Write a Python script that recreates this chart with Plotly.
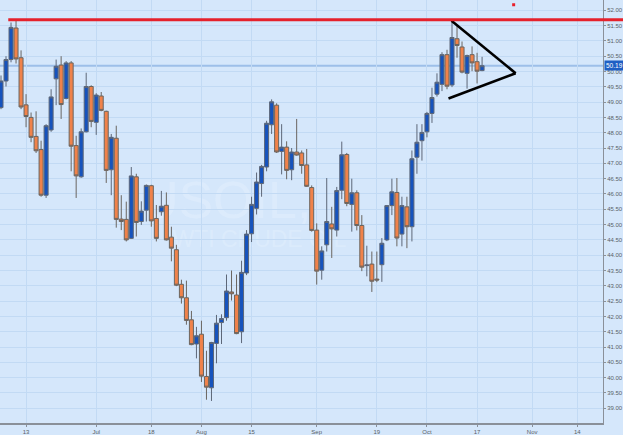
import plotly.graph_objects as go
import pandas as pd

# ---- data ----
dates = pd.bdate_range("2016-06-06", "2016-10-18")
opens = [48.82, 49.69, 50.39, 51.42, 50.45, 48.91, 48.50, 47.88, 47.45, 45.96,
         48.09, 49.76, 50.21, 49.12, 50.28, 47.58, 46.56, 48.03, 49.51, 48.34,
         49.20, 48.70, 46.79, 47.82, 45.18, 45.17, 44.55, 46.56, 45.10, 45.47,
         46.27, 45.20, 45.42, 45.63, 44.59, 44.18, 43.05, 42.61, 41.89, 41.10,
         41.42, 40.04, 39.67, 41.12, 41.80, 41.96, 42.80, 42.70, 41.50, 43.42,
         44.70, 45.53, 46.34, 46.88, 48.26, 48.90, 47.39, 47.53, 46.79, 47.37,
         47.34, 46.95, 46.21, 44.82, 43.51, 44.34, 45.02, 44.82, 46.12, 47.29,
         45.66, 46.04, 44.97, 43.66, 43.71, 43.22, 43.69, 44.50, 45.62, 46.05,
         44.69, 45.58, 44.93, 47.20, 47.74, 48.03, 48.63, 49.26, 49.58, 50.55,
         49.56, 51.07, 50.80, 49.94, 50.55, 50.32, 50.03]
highs = [49.87, 50.50, 51.60, 51.67, 50.69, 49.26, 48.66, 48.70, 47.74, 48.28,
         49.42, 50.39, 50.50, 50.34, 50.34, 47.90, 48.14, 49.96, 49.55, 49.29,
         49.33, 48.72, 47.96, 48.23, 45.96, 45.75, 46.88, 46.66, 45.76, 46.31,
         46.30, 45.64, 46.10, 46.05, 44.93, 44.34, 43.20, 43.17, 42.18, 41.66,
         41.86, 40.88, 41.17, 42.05, 42.07, 43.37, 43.50, 43.37, 43.82, 44.82,
         45.91, 46.70, 46.95, 48.39, 49.09, 48.96, 48.28, 47.72, 47.50, 48.45,
         47.42, 47.47, 46.28, 45.04, 44.29, 46.52, 45.58, 46.23, 47.71, 47.34,
         46.50, 46.12, 45.31, 44.31, 44.12, 44.12, 44.56, 45.64, 46.50, 46.52,
         45.91, 45.91, 47.42, 48.28, 48.28, 48.68, 49.47, 49.94, 50.63, 50.71,
         51.63, 51.52, 50.98, 50.55, 50.82, 50.61, 50.48]
lows = [48.77, 49.51, 50.30, 50.26, 48.77, 48.18, 47.69, 47.34, 45.91, 45.87,
        48.03, 48.90, 48.45, 49.09, 46.74, 45.87, 46.53, 48.01, 48.18, 47.93,
        48.70, 46.36, 45.96, 44.90, 44.82, 44.45, 44.53, 44.61, 44.99, 45.10,
        44.93, 44.45, 45.29, 44.48, 43.80, 42.99, 42.42, 41.73, 41.06, 40.63,
        39.86, 39.28, 39.24, 40.47, 41.10, 41.86, 42.52, 41.42, 41.13, 43.35,
        44.43, 45.33, 45.91, 46.74, 47.96, 47.34, 46.64, 46.48, 46.45, 47.25,
        46.66, 46.23, 44.77, 43.04, 43.20, 44.12, 43.91, 44.61, 45.83, 45.60,
        44.77, 44.81, 43.48, 43.31, 42.80, 43.12, 43.13, 44.46, 45.31, 44.29,
        44.29, 44.23, 44.45, 46.66, 47.09, 47.85, 48.32, 49.18, 49.36, 49.42,
        49.49, 50.45, 49.94, 49.44, 50.01, 49.61, 50.01]
closes = [49.69, 50.39, 51.44, 50.41, 48.84, 48.53, 47.85, 47.41, 45.96, 48.23,
          49.17, 50.17, 48.92, 50.28, 47.56, 46.59, 48.03, 49.51, 48.37, 49.23,
          48.73, 46.77, 47.85, 45.17, 45.10, 44.50, 46.59, 45.07, 45.44, 46.28,
          45.12, 44.55, 45.60, 44.50, 44.23, 43.02, 42.61, 41.87, 41.08, 41.37,
          40.05, 39.69, 41.15, 41.78, 41.93, 42.83, 42.74, 41.44, 43.44, 44.69,
          45.66, 46.39, 46.90, 48.31, 49.01, 47.37, 47.53, 46.77, 47.37, 47.27,
          46.93, 46.25, 44.81, 43.48, 44.14, 45.10, 44.86, 46.11, 47.28, 45.69,
          46.04, 44.97, 43.61, 43.68, 43.15, 43.19, 44.39, 45.62, 46.07, 44.56,
          45.62, 44.93, 47.15, 47.69, 48.01, 48.63, 49.15, 49.65, 50.55, 49.52,
          51.11, 50.85, 49.98, 50.52, 50.28, 50.01, 50.19]

tick_dates = ["2016-06-13", "2016-07-01", "2016-07-18", "2016-08-01", "2016-08-15",
              "2016-09-01", "2016-09-19", "2016-10-03", "2016-10-17", "2016-11-01",
              "2016-11-14"]
tick_labels = ["13", "Jul", "18", "Aug", "15", "Sep", "19", "Oct", "17", "Nov", "14"]

resistance = 51.69
last_price = 50.19
# triangle (pennant) lines: x in bar index, y in price
tri_upper_x = [89.9, 102.7]
tri_upper_y = [51.66, 49.94]
tri_lower_x = [89.3, 102.7]
tri_lower_y = [49.12, 49.94]
dot_x = [102.3]
dot_y = [52.18]
y_ticks = [39 + 0.5 * k for k in range(27)]

# ---- derived positions ----
axis_dates = pd.bdate_range("2016-06-06", "2016-11-30")
idx_of = {d.strftime("%Y-%m-%d"): i for i, d in enumerate(axis_dates)}
tick_vals = [idx_of[d] for d in tick_dates]
x = list(range(len(dates)))

x_range = [-0.2, 120.13]
y_range = [38.52, 52.335]

BG = "#d5e7fb"
GRID = "#c2daf4"
AX = "#8a9099"
WM = "rgba(226,239,253,0.55)"

fig = go.Figure()

fig.add_trace(go.Candlestick(
    x=x, open=opens, high=highs, low=lows, close=closes,
    increasing=dict(fillcolor="#1653bd", line=dict(color="#5d6778", width=1)),
    decreasing=dict(fillcolor="#f0824a", line=dict(color="#6a6560", width=1)),
    whiskerwidth=0, showlegend=False, hoverinfo="skip"))

fig.add_trace(go.Scatter(x=tri_upper_x, y=tri_upper_y, mode="lines",
                         line=dict(color="black", width=2.6), showlegend=False, hoverinfo="skip"))
fig.add_trace(go.Scatter(x=tri_lower_x, y=tri_lower_y, mode="lines",
                         line=dict(color="black", width=2.6), showlegend=False, hoverinfo="skip"))
fig.add_trace(go.Scatter(x=dot_x, y=dot_y, mode="markers",
                         marker=dict(color="#e8202a", size=3, symbol="square"),
                         showlegend=False, hoverinfo="skip"))

def to_paper(v):
    return (v - x_range[0]) / (x_range[1] - x_range[0])

shapes = [
    dict(type="line", xref="paper", yref="y", x0=0, x1=1, y0=last_price, y1=last_price,
         line=dict(color="#9dbfe9", width=2), layer="between"),
    dict(type="line", xref="paper", yref="y", x0=to_paper(1.45), x1=1.04,
         y0=resistance, y1=resistance, line=dict(color="#e5212b", width=3), layer="above"),
    dict(type="rect", xref="paper", yref="paper", x0=0.2, x1=0.55, y0=0.48, y1=0.60,
         line=dict(width=0), fillcolor="rgba(0,0,0,0)", layer="between",
         label=dict(text="USOIL,", font=dict(size=52, color=WM, family="Liberation Sans"),
                    textposition="middle center")),
    dict(type="rect", xref="paper", yref="paper", x0=0.2, x1=0.66, y0=0.40, y1=0.48,
         line=dict(width=0), fillcolor="rgba(0,0,0,0)", layer="between",
         label=dict(text="WTI CRUDE OIL", font=dict(size=23, color=WM, family="Liberation Sans"),
                    textposition="middle center")),
]

fig.update_layout(
    width=623, height=435,
    margin=dict(l=0, r=18, t=0, b=9),
    paper_bgcolor=BG, plot_bgcolor=BG,
    font=dict(family="Liberation Sans, Arial, sans-serif", color="#5a5f66", size=6),
    boxgap=0.2, boxgroupgap=0.0,
    shapes=shapes,
    annotations=[dict(xref="paper", yref="y", x=1.0, y=last_price, xanchor="left",
                      yanchor="middle", text="50.19", showarrow=False,
                      font=dict(size=6.5, color="white"), bgcolor="#1f5fc4",
                      borderpad=1, xshift=1)],
    xaxis=dict(range=x_range, tickmode="array", tickvals=tick_vals, ticktext=tick_labels,
               showgrid=True, gridcolor=GRID, gridwidth=1, zeroline=False,
               showline=True, linecolor=AX, linewidth=1.5, ticks="outside", ticklen=2,
               tickcolor=AX, rangeslider=dict(visible=False), tickfont=dict(size=6)),
    yaxis=dict(range=y_range, side="right", tickmode="array", tickvals=y_ticks,
               tickformat=".2f", showgrid=True, gridcolor=GRID, gridwidth=1, zeroline=False,
               showline=True, linecolor=AX, linewidth=1, ticks="outside", ticklen=2,
               tickcolor=AX, tickfont=dict(size=6)),
)

fig.write_html("out.html", config={"displayModeBar": False},
               post_script="document.body.style.margin='0px';document.body.style.overflow='hidden';")
